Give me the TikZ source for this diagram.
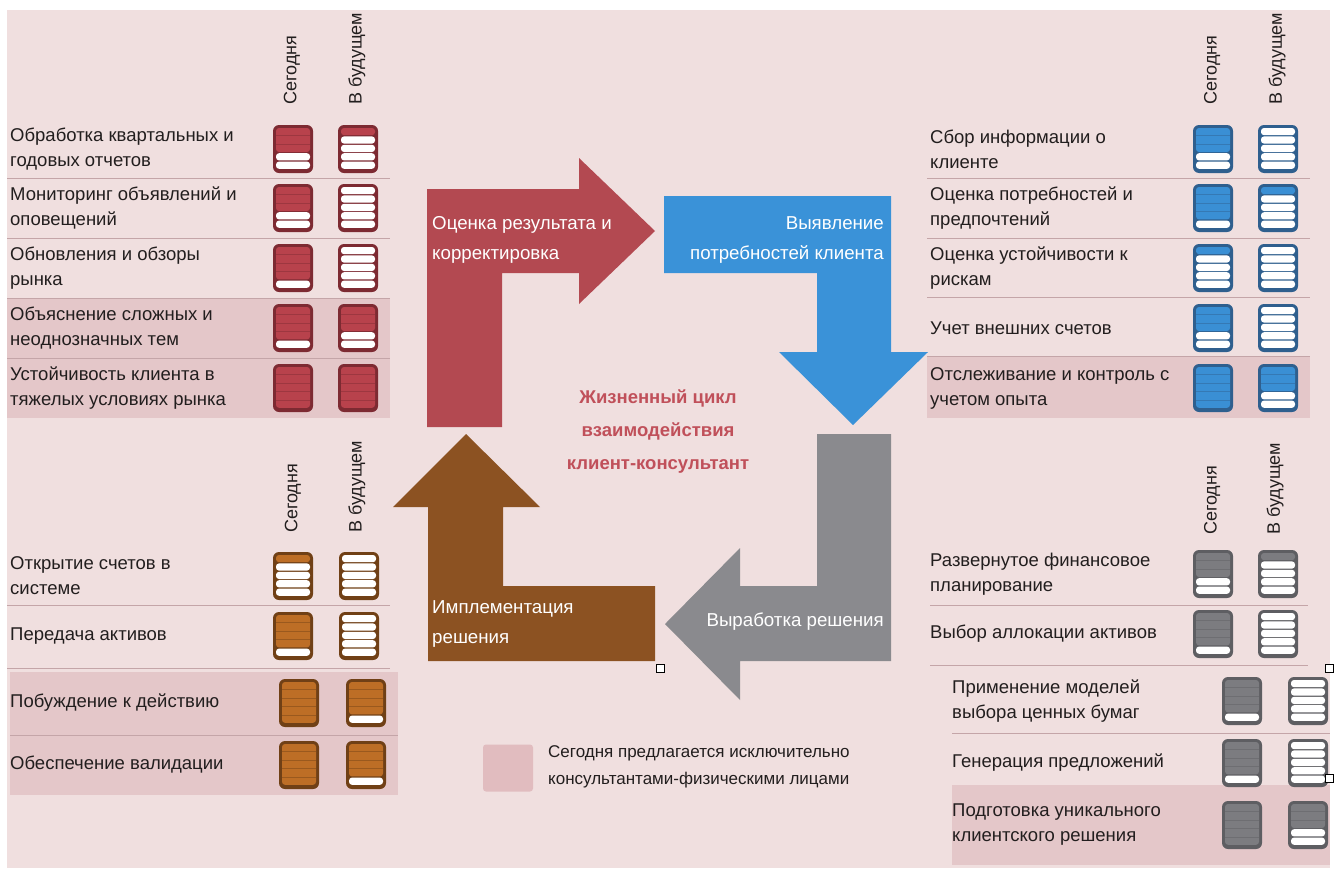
\documentclass[tikz,border=0pt]{standalone}
\usepackage{fontspec}
\setmainfont{Liberation Sans}
\usepackage{xcolor}

\definecolor{bgpink}{RGB}{240,223,223}
\definecolor{hilcol}{RGB}{228,199,201}
\definecolor{sepcol}{RGB}{196,165,168}
\definecolor{txtcol}{RGB}{34,30,30}
\definecolor{redarrow}{RGB}{179,73,81}
\definecolor{bluearrow}{RGB}{58,146,216}
\definecolor{grayarrow}{RGB}{138,138,142}
\definecolor{brownarrow}{RGB}{140,82,34}
\definecolor{redfill}{RGB}{184,66,76}
\definecolor{rededge}{RGB}{125,42,50}
\definecolor{bluefill}{RGB}{58,143,212}
\definecolor{blueedge}{RGB}{47,95,142}
\definecolor{brownfill}{RGB}{189,110,38}
\definecolor{brownedge}{RGB}{112,64,22}
\definecolor{grayfill}{RGB}{124,124,128}
\definecolor{grayedge}{RGB}{94,94,98}
\definecolor{titlecol}{RGB}{192,80,90}
\definecolor{legendcol}{RGB}{225,188,191}

\tikzset{
  item/.style={anchor=west, align=left, inner sep=0pt, text=txtcol,
    font=\fontsize{18.5}{25}\selectfont},
  colhead/.style={rotate=90, anchor=west, inner sep=0pt, text=txtcol,
    font=\fontsize{18}{20}\selectfont},
  sepline/.style={draw=sepcol, line width=0.8pt},
  hilite/.style={fill=hilcol},
  lbl/.style={inner sep=0pt, text=white, font=\fontsize{18.7}{30}\selectfont},
  cycletitle/.style={align=center, inner sep=0pt, text=titlecol,
    font=\bfseries\fontsize{18.5}{33}\selectfont},
  legendbox/.style={fill=legendcol, rounded corners=3pt, minimum width=50pt,
    minimum height=47pt, inner sep=0pt},
  legendtxt/.style={anchor=west, align=left, inner sep=0pt, text=txtcol,
    font=\fontsize{17}{27}\selectfont},
  handle/.style={draw=black, fill=white, line width=1pt, minimum size=8pt,
    inner sep=0pt}
}

% gauge icon: centre x, centre y, filled stripes, fill colour, edge colour
\newcommand{\gauge}[5]{%
  \begin{scope}[shift={(#1,#2)}]
    \fill[#5, rounded corners=6pt] (-20,-24) rectangle (20,24);
    \ifnum#3>0\relax
      \fill[#4, rounded corners=3pt] (-17,-21) rectangle (17,{-21+#3*8.4-1.2});
    \fi
    \foreach \k in {1,...,5}{%
      \ifnum\k>#3\relax
        \fill[white, rounded corners=3pt]
          (-17,{-21+(\k-1)*8.4}) rectangle (17,{-21+\k*8.4-1.2});
      \else\ifnum\k<#3\relax
        \draw[#5, opacity=0.45, line width=0.7pt]
          (-17,{-21+\k*8.4-0.6}) -- (17,{-21+\k*8.4-0.6});
      \fi\fi
    }
  \end{scope}%
}

\begin{document}
\begin{tikzpicture}[x=1pt,y=-1pt]
  \useasboundingbox (0,0) rectangle (1335,868);
  \fill[white] (0,0) rectangle (1335,868);
  \fill[bgpink] (7,10) rectangle (1330,868);

  % highlighted rows
  \fill[hilite] (7,298) rectangle (390,418);
  \fill[hilite] (927,356) rectangle (1310,418);
  \fill[hilite] (10,672) rectangle (398,795);
  \fill[hilite] (952,785) rectangle (1330,865);

  % row separators
  \foreach \y in {178,238,298,358} \draw[sepline] (7,\y) -- (390,\y);
  \foreach \y in {178,238,297,356} \draw[sepline] (927,\y) -- (1310,\y);
  \foreach \y in {605,668} \draw[sepline] (7,\y) -- (390,\y);
  \draw[sepline] (10,735) -- (398,735);
  \foreach \y in {605,665} \draw[sepline] (930,\y) -- (1308,\y);
  \draw[sepline] (952,733) -- (1330,733);

  % column headers
  \node[colhead] (tlnow) at (292,105) {Сегодня};
  \node[colhead] (tlnext) at (357,105) {В будущем};
  \node[colhead] (trnow) at (1212,105) {Сегодня};
  \node[colhead] (trnext) at (1277,105) {В будущем};
  \node[colhead] (blnow) at (293,533) {Сегодня};
  \node[colhead] (blnext) at (357,533) {В будущем};
  \node[colhead] (brnow) at (1212,535) {Сегодня};
  \node[colhead] (brnext) at (1275,535) {В будущем};

  % review rows (red)
  \foreach \y/\txt/\a/\b [count=\i] in {
    149/{Обработка квартальных и\\годовых отчетов}/3/1,
    208/{Мониторинг объявлений и\\оповещений}/3/0,
    268/{Обновления и обзоры\\рынка}/4/0,
    328/{Объяснение сложных и\\неоднозначных тем}/4/3,
    388/{Устойчивость клиента в\\тяжелых условиях рынка}/5/5}{
    \node[item] (review\i) at (10,\y) {\txt};
    \gauge{293}{\y}{\a}{redfill}{rededge}
    \gauge{358}{\y}{\b}{redfill}{rededge}
  }

  % needs rows (blue)
  \foreach \y/\txt/\a/\b [count=\i] in {
    149/{Сбор информации о\\клиенте}/3/0,
    208/{Оценка потребностей и\\предпочтений}/4/1,
    268/{Оценка устойчивости к\\рискам}/1/0,
    328/{Учет внешних счетов}/3/0,
    388/{Отслеживание и контроль с\\учетом опыта}/5/3}{
    \node[item] (needs\i) at (930,\y) {\txt};
    \gauge{1213}{\y}{\a}{bluefill}{blueedge}
    \gauge{1278}{\y}{\b}{bluefill}{blueedge}
  }

  % implementation rows (brown)
  \foreach \y/\txt/\a/\b/\xa/\xb [count=\i] in {
    576/{Открытие счетов в\\системе}/1/0/293/359,
    636/{Передача активов}/4/0/293/359,
    703/{Побуждение к действию}/5/4/299/366,
    765/{Обеспечение валидации}/5/4/299/366}{
    \node[item] (impl\i) at (10,\y) {\txt};
    \gauge{\xa}{\y}{\a}{brownfill}{brownedge}
    \gauge{\xb}{\y}{\b}{brownfill}{brownedge}
  }

  % solution rows (gray)
  \foreach \y/\txt/\a/\b/\x/\xa/\xb [count=\i] in {
    574/{Развернутое финансовое\\планирование}/3/1/930/1213/1278,
    634/{Выбор аллокации активов}/4/0/930/1213/1278,
    701/{Применение моделей\\выбора ценных бумаг}/4/0/952/1242/1308,
    763/{Генерация предложений}/4/0/952/1242/1308,
    825/{Подготовка уникального\\клиентского решения}/5/3/952/1242/1308}{
    \node[item] (sol\i) at (\x,\y) {\txt};
    \gauge{\xa}{\y}{\a}{grayfill}{grayedge}
    \gauge{\xb}{\y}{\b}{grayfill}{grayedge}
  }

  % cycle arrows
  \fill[redarrow] (427,427) -- (427,189) -- (579,189) -- (579,158) -- (655,231)
    -- (579,304) -- (579,273) -- (502,273) -- (502,427) -- cycle;
  \fill[bluearrow] (664,196) -- (891,196) -- (891,352) -- (928,352) -- (853,425)
    -- (779,352) -- (817,352) -- (817,273) -- (664,273) -- cycle;
  \fill[grayarrow] (817,434) -- (891,434) -- (891,661) -- (740,661) -- (740,700)
    -- (665,624) -- (740,548) -- (740,586) -- (817,586) -- cycle;
  \fill[brownarrow] (655,586) -- (655,661) -- (428,661) -- (428,507) -- (393,507)
    -- (466,434) -- (540,507) -- (503,507) -- (503,586) -- cycle;

  \node[lbl, anchor=west, align=left] (redlbl) at (432,240)
    {Оценка результата и\\корректировка};
  \node[lbl, anchor=east, align=right] (bluelbl) at (884,240)
    {Выявление\\потребностей клиента};
  \node[lbl, anchor=east] (graylbl) at (884,622) {Выработка решения};
  \node[lbl, anchor=west, align=left] (brownlbl) at (432,624)
    {Имплементация\\решения};

  \node[cycletitle] (title) at (658,432)
    {Жизненный цикл\\взаимодействия\\клиент-консультант};

  % legend
  \node[legendbox] (key) at (508,768) {};
  \node[legendtxt] (keytxt) at (548,767)
    {Сегодня предлагается исключительно\\консультантами-физическими лицами};

  % selection handles
  \node[handle] (h1) at (660,668) {};
  \node[handle] (h2) at (1329,668) {};
  \node[handle] (h3) at (1329,778) {};
\end{tikzpicture}
\end{document}
